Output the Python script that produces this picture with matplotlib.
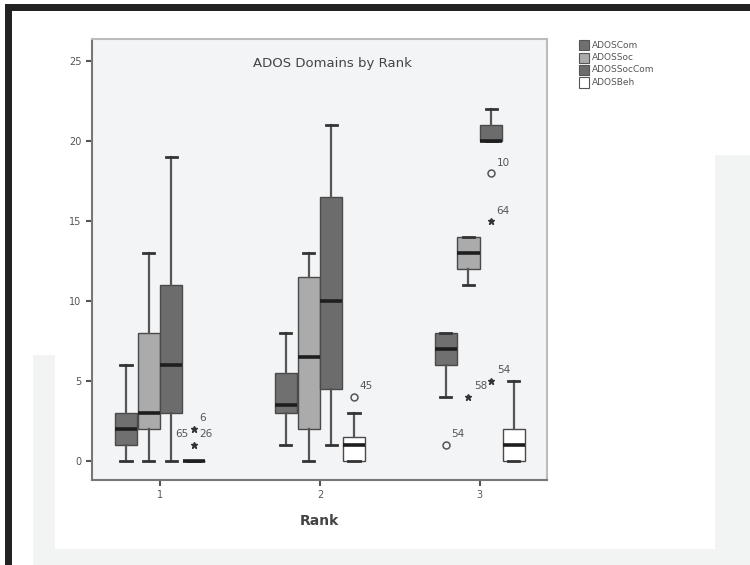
#!/usr/bin/env python3

import matplotlib
matplotlib.use("Agg")
import matplotlib.pyplot as plt
from matplotlib.patches import Rectangle

# data (box summaries per rank)
ranks = [1, 2, 3]
series = ["ADOSCom", "ADOSSoc", "ADOSSocCom", "ADOSBeh"]

# each row: [whislo, q1, med, q3, whishi] for ranks 1, 2, 3
ados_com = [[0, 1, 2, 3, 6], [1, 3, 3.5, 5.5, 8], [4, 6, 7, 8, 8]]
ados_soc = [[0, 2, 3, 8, 13], [0, 2, 6.5, 11.5, 13], [11, 12, 13, 14, 14]]
ados_soccom = [[0, 3, 6, 11, 19], [1, 4.5, 10, 16.5, 21], [20, 20, 20, 21, 22]]
ados_beh = [[0, 0, 0, 0, 0], [0, 0, 1, 1.5, 3], [0, 0, 1, 2, 5]]

# outliers: rank, series index, value, kind, case label
out_rank = [1, 1, 2, 3, 3, 3, 3, 3]
out_series = [3, 3, 3, 0, 1, 2, 2, 2]
out_value = [2, 1, 4, 1, 4, 5, 15, 18]
out_kind = ["*", "*", "o", "o", "*", "*", "*", "o"]
out_label = ["6", "26", "45", "54", "58", "54", "64", "10"]

colors = ["#707070", "#ababab", "#6c6c6c", "#ffffff"]

fig = plt.figure(figsize=(7.5, 5.65), dpi=100)

# screenshot decorations: faint grey frame behind, black border top/left
W, H = 750.0, 565.0
def rect(x0, y0, x1, y1, z=-10, **kw):
	fig.patches.append(Rectangle((x0 / W, 1 - y1 / H), (x1 - x0) / W, (y1 - y0) / H,
		transform=fig.transFigure, zorder=z, **kw))

rect(33, 355, 750, 565, color="#f2f3f3", lw=0)
rect(55, 355, 715, 549, color="white", lw=0)
rect(715, 155, 750, 565, color="#f2f3f3", lw=0)
rect(5, 4, 750, 11, color="#222222", lw=0)
rect(5, 4, 12, 565, color="#222222", lw=0)

ax = fig.add_axes([92 / W, 1 - 480 / H, (547 - 92) / W, (480 - 39) / H])
ax.set_facecolor("#f3f4f6")

step = 0.142
offsets = [-1.5 * step, -0.5 * step, 0.5 * step, 1.5 * step]
all_data = [ados_com, ados_soc, ados_soccom, ados_beh]

for si, data in enumerate(all_data):
	stats = []
	for r in data:
		stats.append({"whislo": r[0], "q1": r[1], "med": r[2], "q3": r[3], "whishi": r[4], "fliers": []})
	pos = [rk + offsets[si] for rk in ranks]
	ax.bxp(stats, positions=pos, widths=0.138, capwidths=0.07, patch_artist=True,
		showfliers=False, manage_ticks=False,
		boxprops=dict(facecolor=colors[si], edgecolor="#4a4a4a", lw=1.0),
		medianprops=dict(color="#1e1e1e", lw=2.6),
		whiskerprops=dict(color="#555555", lw=1.6),
		capprops=dict(color="#333333", lw=2.0))

for rk, si, v, kind, lab in zip(out_rank, out_series, out_value, out_kind, out_label):
	x = rk + offsets[si]
	if kind == "o":
		ax.plot(x, v, marker="o", ms=5, mfc="none", mec="#555555", mew=1.1, ls="none")
	else:
		ax.plot(x, v, marker="*", ms=5, color="#333333", ls="none")
	ax.annotate(lab, (x, v), xytext=(4, 4), textcoords="offset points",
		fontsize=7.5, color="#555555", ha="left", va="bottom")

# second case number left of the lower star at rank 1
ax.annotate("65", (1 + offsets[3], 1), xytext=(-4, 4), textcoords="offset points",
	fontsize=7.5, color="#555555", ha="right", va="bottom")

ax.set_xlim(0.575, 3.42)
ax.set_ylim(-1.2, 26.4)
ax.set_xticks(ranks)
ax.set_yticks([0, 5, 10, 15, 20, 25])
ax.tick_params(labelsize=7, colors="#555555", length=4, width=1.5)
for s in ["top", "right"]:
	ax.spines[s].set_color("#bbbbbb")
	ax.spines[s].set_linewidth(1.5)
for s in ["left", "bottom"]:
	ax.spines[s].set_color("#777777")
	ax.spines[s].set_linewidth(1.5)

ax.set_xlabel("Rank", fontsize=10, fontweight="bold", color="#444444", labelpad=10)
fig.text(332 / W, 1 - 63 / H, "ADOS Domains by Rank", fontsize=9.5, color="#444444",
	ha="center", va="center")

# legend outside on the right
for i, name in enumerate(series):
	y = 45 + i * 12.5
	rect(579, y - 5, 589, y + 5, z=1, facecolor=colors[i], edgecolor="#555555", lw=0.8)
	fig.text(592 / W, 1 - y / H, name, fontsize=6.5, color="#555555", va="center", ha="left")

fig.savefig("out.png", dpi=100)
